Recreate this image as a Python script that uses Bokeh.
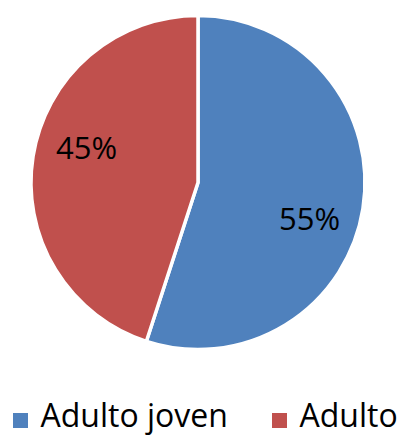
import math
from bokeh.plotting import figure
from bokeh.models import Range1d, ColumnDataSource
from bokeh.core.properties import value
from bokeh.embed import file_html
from bokeh.resources import INLINE

categories = ["Adulto joven", "Adulto"]
shares = [55, 45]
colors = ["#4F81BD", "#C0504D"]

W, H = 404, 437
cx, cy, r = 197.5, H - 182, 167
font = "Open Sans"

p = figure(width=W, height=H, output_backend="svg", toolbar_location=None,
           x_range=Range1d(0, W), y_range=Range1d(0, H), min_border=0)
p.axis.visible = False
p.grid.visible = False
p.outline_line_color = None
p.background_fill_color = "white"

total = sum(shares)
starts, ends, lx, ly, labels = [], [], [], [], []
a = math.pi / 2
for s in shares:
    sweep = 2 * math.pi * s / total
    starts.append(a)
    ends.append(a - sweep)
    mid = a - sweep / 2 - math.radians(8.5)
    lx.append(cx + 0.7 * r * math.cos(mid))
    ly.append(cy + 0.7 * r * math.sin(mid))
    labels.append(f"{round(100 * s / total)}%")
    a -= sweep

src = ColumnDataSource(dict(start=starts, end=ends, color=colors, lx=lx, ly=ly, label=labels))
p.wedge(x=cx, y=cy, radius=r, start_angle="start", end_angle="end", direction="clock",
        fill_color="color", line_color="white", line_width=3.5, source=src)
p.text(x="lx", y="ly", text="label", source=src, text_font=value(font),
       text_font_size="31px", text_align="center", text_baseline="middle", text_color="black")

# legend
leg_x = [20, 279]
lsrc = ColumnDataSource(dict(x=leg_x, y=[H - 420] * 2, ty=[H - 414] * 2,
                             tx=[x + 20 for x in leg_x], color=colors, name=categories))
p.rect(x="x", y="y", width=15, height=15, fill_color="color", line_color=None, source=lsrc)
p.text(x="tx", y="ty", text="name", source=lsrc, text_font=value(font), text_font_size="32px",
       text_align="left", text_baseline="middle", text_color="black")

open("out.html", "w").write(file_html(p, INLINE))
